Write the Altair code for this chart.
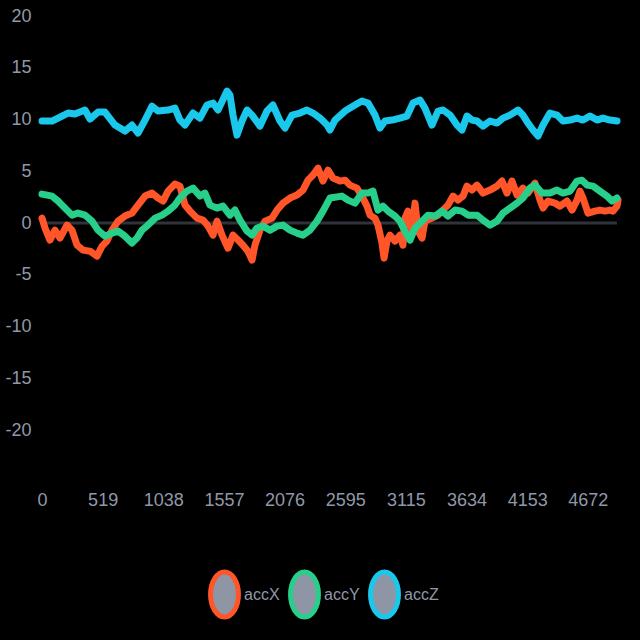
import altair as alt
import pandas as pd

# accZ (cyan)
z_x = [0, 86, 171, 223, 282, 368, 411, 479, 539, 565, 625, 710, 770, 822, 882, 942, 993, 1079, 1138, 1181,
       1224, 1293, 1352, 1412, 1464, 1507, 1584, 1609, 1635, 1669, 1712, 1755, 1798, 1866, 1926, 1977, 2037,
       2080, 2140, 2208, 2268, 2320, 2380, 2440, 2465, 2508, 2594, 2679, 2739, 2791, 2850, 2893, 2936, 2996,
       3064, 3124, 3176, 3236, 3278, 3338, 3390, 3433, 3493, 3552, 3595, 3638, 3681, 3724, 3775, 3835, 3895,
       3946, 4006, 4075, 4117, 4160, 4203, 4246, 4289, 4348, 4408, 4460, 4520, 4580, 4631, 4691, 4751, 4802,
       4862, 4922]
z_v = [9.86, 9.86, 10.34, 10.63, 10.53, 10.92, 10.05, 10.72, 10.72, 10.34, 9.47, 8.89, 9.47, 8.70, 9.95, 11.30,
       10.82, 10.92, 11.11, 9.95, 9.47, 10.63, 10.14, 11.40, 11.59, 10.92, 12.75, 12.37, 10.43, 8.50, 9.86,
       10.92, 10.43, 9.37, 10.82, 11.40, 9.86, 9.18, 10.43, 10.63, 10.92, 10.63, 10.14, 9.47, 8.99, 9.95,
       10.82, 11.40, 11.79, 11.59, 10.43, 9.18, 9.86, 9.95, 10.14, 10.34, 11.59, 11.88, 11.11, 9.47, 10.82,
       10.92, 10.43, 9.47, 8.99, 10.34, 9.95, 9.86, 9.37, 9.86, 9.66, 10.14, 10.43, 10.92, 10.43, 9.66, 8.99,
       8.41, 9.47, 10.63, 10.43, 9.86, 9.95, 10.14, 9.95, 10.34, 9.95, 10.14, 9.95, 9.86]

# accY (green)
y_x = [0, 86, 137, 197, 257, 308, 368, 428, 479, 539, 599, 651, 710, 770, 813, 856, 907, 967, 1027, 1079,
       1138, 1181, 1241, 1293, 1352, 1395, 1438, 1498, 1549, 1609, 1652, 1695, 1755, 1798, 1840, 1892, 1952,
       2012, 2063, 2123, 2183, 2234, 2294, 2354, 2405, 2465, 2568, 2619, 2679, 2739, 2791, 2833, 2876, 2919,
       2962, 3022, 3064, 3107, 3150, 3193, 3253, 3304, 3364, 3424, 3475, 3535, 3595, 3647, 3724, 3775, 3835,
       3895, 3946, 4006, 4066, 4117, 4177, 4220, 4280, 4348, 4408, 4460, 4520, 4580, 4622, 4665, 4717, 4776,
       4836, 4879, 4922]
y_v = [2.80, 2.61, 2.13, 1.45, 0.77, 0.97, 0.77, 0.19, -0.68, -1.26, -0.97, -0.77, -1.26, -1.93, -1.45, -0.68,
       -0.19, 0.48, 0.77, 1.16, 1.74, 2.42, 3.09, 3.38, 2.61, 2.90, 1.74, 1.45, 1.64, 0.77, 1.26, 0.29, -0.77,
       -1.16, -0.48, -0.29, -0.68, -0.29, -0.19, -0.68, -0.97, -1.16, -0.68, 0.19, 1.16, 2.42, 2.61, 2.22,
       1.93, 2.90, 2.90, 3.09, 1.26, 1.64, 1.16, 0.68, 0.19, -0.77, -1.64, -0.48, 0.19, 0.77, 0.68, 1.16,
       0.68, 1.26, 1.16, 0.77, 0.77, 0.29, -0.19, 0.19, 0.97, 1.45, 1.93, 2.42, 3.38, 3.67, 2.90, 2.90, 3.19,
       2.90, 3.09, 4.06, 4.15, 3.67, 3.57, 3.09, 2.61, 2.13, 2.42]

# accX (orange)
x_x = [0, 26, 68, 111, 154, 214, 257, 300, 351, 411, 471, 514, 556, 599, 651, 710, 770, 822, 882, 942, 993,
       1036, 1079, 1138, 1181, 1224, 1267, 1327, 1378, 1421, 1464, 1498, 1541, 1592, 1635, 1678, 1721, 1763,
       1798, 1823, 1866, 1909, 1969, 2012, 2063, 2123, 2183, 2234, 2277, 2320, 2363, 2405, 2448, 2491, 2551,
       2594, 2636, 2696, 2739, 2782, 2808, 2850, 2876, 2910, 2928, 2953, 2979, 3022, 3064, 3090, 3107, 3133,
       3167, 3193, 3219, 3253, 3278, 3338, 3390, 3433, 3475, 3518, 3561, 3604, 3638, 3681, 3724, 3775, 3835,
       3895, 3938, 3980, 4023, 4066, 4117, 4160, 4220, 4263, 4289, 4331, 4391, 4434, 4494, 4537, 4580, 4605,
       4631, 4674, 4734, 4776, 4819, 4862, 4888, 4922, 4931]
x_v = [0.48, -0.48, -1.64, -0.68, -1.45, -0.19, -0.68, -2.13, -2.61, -2.71, -3.19, -2.22, -1.74, -0.68, 0.19,
       0.68, 0.97, 1.74, 2.61, 2.90, 2.42, 2.13, 3.09, 3.77, 3.57, 1.74, 1.16, 0.48, 0.29, -0.29, -1.16, 0.19,
       -1.16, -2.42, -1.16, -1.64, -2.13, -2.71, -3.57, -2.13, -0.68, 0.19, 0.48, 1.26, 1.93, 2.42, 2.71, 3.19,
       4.15, 4.64, 5.31, 4.06, 5.12, 4.35, 4.06, 4.15, 3.67, 3.38, 2.61, 1.64, 0.77, 0.48, -0.19, -1.93, -3.38,
       -1.74, -1.16, -1.74, -1.16, -2.13, 0.48, 1.16, -0.77, 1.93, -0.77, -1.45, 0.19, 0.48, 0.77, 1.26, 1.74,
       2.61, 2.22, 2.61, 3.57, 3.19, 3.67, 2.90, 3.19, 3.57, 4.06, 2.90, 4.06, 2.71, 3.38, 2.90, 3.86, 2.22,
       1.45, 2.13, 1.93, 1.64, 2.13, 1.26, 2.22, 3.09, 2.42, 0.97, 1.16, 1.26, 1.16, 1.26, 1.16, 1.64, 2.22]

series_names = ["accX", "accY", "accZ"]
series_colors = ["#ff5528", "#27cf8a", "#1ac8ec"]
x_tick_values = [0, 519, 1038, 1557, 2076, 2595, 3115, 3634, 4153, 4672]
y_tick_values = [-20, -15, -10, -5, 0, 5, 10, 15, 20]

rows = []
for name, xs, vs in zip(series_names, [x_x, y_x, z_x], [x_v, y_v, z_v]):
    for i, (a, b) in enumerate(zip(xs, vs)):
        rows.append({"series": name, "t": a, "value": b, "order": i})
df = pd.DataFrame(rows)

FONT = "Liberation Sans"
LABEL = "#9098a8"
ELLIPSE = "M -0.82 0 A 0.82 1.32 0 1 1 0.82 0 A 0.82 1.32 0 1 1 -0.82 0 Z"

xscale = alt.Scale(domain=[0, 4922], nice=False, zero=False)
yscale = alt.Scale(domain=[-25, 20], nice=False)

zero = alt.Chart(pd.DataFrame({"v": [0]})).mark_rule(color="#2f323a", strokeWidth=3).encode(
    y=alt.Y("v:Q", scale=yscale)
)

lines = alt.Chart(df).mark_line(strokeWidth=7, strokeJoin="round", strokeCap="round").encode(
    x=alt.X("t:Q", scale=xscale, title=None,
            axis=alt.Axis(values=x_tick_values, format="d", grid=False, domain=False, ticks=False,
                          labelPadding=9, labelFontSize=18, labelColor=LABEL, labelFont=FONT,
                          labelFlush=False, labelOverlap=False)),
    y=alt.Y("value:Q", scale=yscale, title=None,
            axis=alt.Axis(values=y_tick_values, grid=False, domain=False, ticks=False,
                          labelExpr="'' + datum.value",
                          labelPadding=11, labelFontSize=18, labelColor=LABEL, labelFont=FONT)),
    color=alt.Color("series:N", scale=alt.Scale(domain=series_names, range=series_colors),
                    legend=alt.Legend(title=None, orient="none", direction="horizontal",
                                      legendX=163, legendY=559, symbolType=ELLIPSE,
                                      symbolSize=1156, symbolStrokeWidth=5,
                                      symbolFillColor="#8e96a6", labelOffset=0,
                                      columnPadding=0, labelFontSize=16, labelColor=LABEL,
                                      labelFont=FONT)),
    order="order:Q",
)

chart = alt.layer(zero, lines).properties(
    width=575, height=466,
    autosize=alt.AutoSizeParams(type="none"),
    padding={"left": 42, "top": 16, "right": 23, "bottom": 158},
    background="#000000",
).configure_view(stroke=None).configure_legend(symbolBaseFillColor="#8e96a6")

chart.save("out.html", embed_options={"renderer": "svg", "actions": False})
